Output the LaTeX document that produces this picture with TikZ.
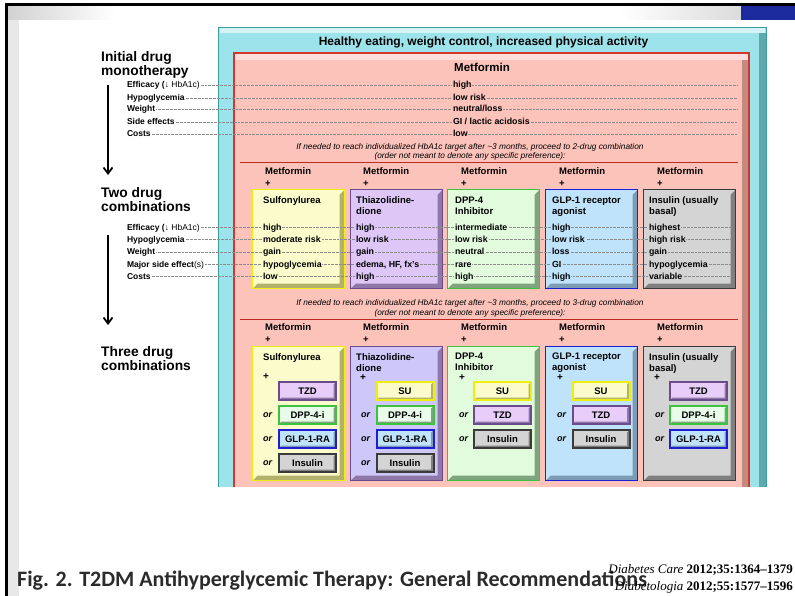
\documentclass[tikz,border=0pt]{standalone}
\usepackage{fontspec}
\setmainfont{Liberation Sans}
\newfontfamily\captionfont{Carlito}
\newfontfamily\citefont{Liberation Serif}
\usetikzlibrary{positioning,arrows.meta}
\definecolor{lifecyan}{HTML}{9DE3EB}
\definecolor{lifeteal}{HTML}{3A9C9E}
\definecolor{lifeshade}{HTML}{5DA9AC}
\definecolor{metsalmon}{HTML}{FCC3BB}
\definecolor{metred}{HTML}{D3362A}
\definecolor{metshade}{HTML}{C38A80}
\definecolor{steprule}{HTML}{BF2A1E}
\definecolor{sufill}{HTML}{FBFBCC}
\definecolor{suline}{HTML}{EEEE10}
\definecolor{sushade}{HTML}{B2B26C}
\definecolor{tzdfill}{HTML}{DEC7F7}
\definecolor{tzdfillb}{HTML}{CEC7F9}
\definecolor{tzdline}{HTML}{6C4B8C}
\definecolor{tzdshade}{HTML}{8E78A8}
\definecolor{tzdadd}{HTML}{E7CDF8}
\definecolor{dppfill}{HTML}{E2FBDD}
\definecolor{dppadd}{HTML}{E9FCE9}
\definecolor{dppline}{HTML}{3EC23E}
\definecolor{dppshade}{HTML}{7FA57F}
\definecolor{glpfill}{HTML}{BFE3FA}
\definecolor{glpline}{HTML}{1E1ED6}
\definecolor{glpshade}{HTML}{7D9CB6}
\definecolor{insfill}{HTML}{D4D4D4}
\definecolor{insline}{HTML}{3A3A3A}
\definecolor{insshade}{HTML}{808080}
\definecolor{slideblue}{HTML}{1B2A9C}
\definecolor{captiongray}{HTML}{2B2B2B}
\begin{document}
\begin{tikzpicture}[x=1pt,y=-1pt,
    stage/.style={font=\fontsize{13.8}{14}\selectfont\bfseries, align=left, anchor=north west, inner sep=0pt},
    rowlab/.style={font=\fontsize{8.5}{9}\selectfont\bfseries, anchor=base west, inner sep=0.8pt},
    val/.style={font=\fontsize{8.8}{9}\selectfont\bfseries, anchor=base west, inner sep=0.8pt},
    leader/.style={densely dotted, black!45, line width=0.35pt},
    sepnote/.style={font=\fontsize{8.3}{9.5}\selectfont\itshape, align=center, inner sep=0pt},
    colhead/.style={font=\fontsize{9.5}{12}\selectfont\bfseries, align=left, anchor=north west, inner sep=0pt},
    boxtitle/.style={font=\fontsize{9.5}{11}\selectfont\bfseries, align=left, inner sep=0pt},
    plusmark/.style={font=\fontsize{10}{10}\selectfont\bfseries, inner sep=0pt},
    ortext/.style={font=\fontsize{9}{10}\selectfont\bfseries\itshape, anchor=west, inner sep=0pt},
    drugbox/.style n args={3}{rectangle, draw=#2, fill=#1, line width=1.4pt, anchor=north west, inner sep=0pt, minimum width=92pt,
      path picture={\fill[#3] (path picture bounding box.south west) -- (path picture bounding box.south east) -- (path picture bounding box.north east) -- ([shift={(-5pt,-5pt)}]path picture bounding box.north east) -- ([shift={(-5pt,5pt)}]path picture bounding box.south east) -- ([shift={(5pt,5pt)}]path picture bounding box.south west) -- cycle;}},
    addbox/.style n args={3}{rectangle, draw=#2, fill=#1, line width=2pt, inner sep=0pt, minimum width=57pt, minimum height=18pt, font=\fontsize{9.5}{10}\selectfont\bfseries,
      path picture={\fill[#3] (path picture bounding box.south west) -- (path picture bounding box.south east) -- (path picture bounding box.north east) -- ([shift={(-2.5pt,-2.5pt)}]path picture bounding box.north east) -- ([shift={(-2.5pt,2.5pt)}]path picture bounding box.south east) -- ([shift={(2.5pt,2.5pt)}]path picture bounding box.south west) -- cycle;}},
    stagearrow/.style={line width=1.8pt, -{Straight Barb[length=6pt,width=9pt,line width=1.8pt]}}]
\useasboundingbox (0,0) rectangle (795,596);
% slide frame
\fill[white] (0,0) rectangle (795,596);
\fill[black!9] (7,6) rectangle (19,596);
\shade[left color=black!18, right color=white] (7,6) rectangle (115,20);
\shade[left color=white, right color=black!14] (620,6) rectangle (741,20);
\fill[slideblue] (741,5) rectangle (795,20);
\draw[line width=2.2pt] (795,4.5) -- (6.5,4.5) -- (6.5,596);
% lifestyle and metformin frames
\fill[lifecyan] (218,27) rectangle (767,487);
\fill[white!55!lifecyan] (220,28) rectangle (765,33);
\fill[lifeshade] (759,33) rectangle (766,487);
\draw[lifeteal, line width=1.4pt] (218.7,487) -- (218.7,27.7) -- (766.3,27.7) -- (766.3,487);
\node[font=\fontsize{12}{13}\selectfont\bfseries, inner sep=0pt] (life) at (483.5,42) {Healthy eating, weight control, increased physical activity};
\fill[metsalmon] (233,52) rectangle (750,487);
\fill[white!45!metsalmon] (235,53) rectangle (748,60);
\fill[metshade] (742,60) rectangle (748,487);
\draw[metred, line width=1.6pt] (233.8,487) -- (233.8,52.8) -- (749.2,52.8) -- (749.2,487);
\node[font=\fontsize{11.5}{13}\selectfont\bfseries, inner sep=0pt] (met) at (482,67) {Metformin};
% stages
\node[stage] (ini) at (101,51) {Initial drug\\monotherapy};
\node[stage] (two) at (101,187) {Two drug\\combinations};
\node[stage] (three) at (101,346) {Three drug\\combinations};
\coordinate (a1s) at (108,85); \coordinate (a1e) at (108,175);
\coordinate (a2s) at (108,235); \coordinate (a2e) at (108,325);
\draw[stagearrow] (a1s) -- (a1e);
\draw[stagearrow] (a2s) -- (a2e);
% monotherapy rows
\node[rowlab] (ieff) at (126,88) {Efficacy (\mdseries↓ HbA1c)};
\node[rowlab] (ihypo) at (126,100.5) {Hypoglycemia};
\node[rowlab] (iwt) at (126,112) {Weight};
\node[rowlab] (iside) at (126,124.5) {Side effects};
\node[rowlab] (icost) at (126,136.5) {Costs};
\coordinate (ieffe) at (737,85.5); \coordinate (ihypoe) at (737,98); \coordinate (iwte) at (737,109.5); \coordinate (isidee) at (737,122); \coordinate (icoste) at (737,134);
\draw[leader] ([yshift=2.5pt]ieff.base east) -- (ieffe);
\draw[leader] ([yshift=2.5pt]ihypo.base east) -- (ihypoe);
\draw[leader] ([yshift=2.5pt]iwt.base east) -- (iwte);
\draw[leader] ([yshift=2.5pt]iside.base east) -- (isidee);
\draw[leader] ([yshift=2.5pt]icost.base east) -- (icoste);
\node[val, fill=metsalmon] (meff) at (452,88) {high};
\node[val, fill=metsalmon] (mhypo) at (452,100.5) {low risk};
\node[val, fill=metsalmon] (mwt) at (452,112) {neutral/loss};
\node[val, fill=metsalmon] (mside) at (452,124.5) {GI / lactic acidosis};
\node[val, fill=metsalmon] (mcost) at (452,136.5) {low};
\node[sepnote] (note2) at (470,152) {If needed to reach individualized HbA1c target after \textasciitilde3 months, proceed to 2-drug combination\\(order not meant to denote any specific preference):};
\draw[steprule, line width=1.6pt] (240,162.5) -- (738,162.5);
% two drug combinations
\node[colhead] (hsu2) at (265,167.5) {Metformin\\+};
\node[colhead] (htzd2) at (363,167.5) {Metformin\\+};
\node[colhead] (hdpp2) at (461,167.5) {Metformin\\+};
\node[colhead] (hglp2) at (559,167.5) {Metformin\\+};
\node[colhead] (hins2) at (657,167.5) {Metformin\\+};
\node[drugbox={sufill}{suline}{sushade}, minimum height=99pt] (su2) at (252,189) {};
\node[drugbox={tzdfill}{tzdline}{tzdshade}, minimum height=99pt] (tzd2) at (350,189) {};
\node[drugbox={dppfill}{dppline}{dppshade}, minimum height=99pt] (dpp2) at (447,189) {};
\node[drugbox={glpfill}{glpline}{glpshade}, minimum height=99pt] (glp2) at (545,189) {};
\node[drugbox={insfill}{insline}{insshade}, minimum height=99pt] (ins2) at (643,189) {};
\node[boxtitle, below right=7.5pt and 11pt of su2.north west] (su2t) {Sulfonylurea};
\node[boxtitle, below right=7.5pt and 6pt of tzd2.north west] (tzd2t) {Thiazolidine-\\dione};
\node[boxtitle, below right=7.5pt and 8pt of dpp2.north west] (dpp2t) {DPP-4\\Inhibitor};
\node[boxtitle, below right=7.5pt and 7pt of glp2.north west] (glp2t) {GLP-1 receptor\\agonist};
\node[boxtitle, below right=7.5pt and 6pt of ins2.north west] (ins2t) {Insulin (usually\\basal)};
\node[rowlab] (teff) at (126,230) {Efficacy (\mdseries↓ HbA1c)};
\node[rowlab] (thypo) at (126,242) {Hypoglycemia};
\node[rowlab] (twt) at (126,254.5) {Weight};
\node[rowlab] (tside) at (126,267) {Major side effect\mdseries(s)};
\node[rowlab] (tcost) at (126,279) {Costs};
\coordinate (teffe) at (731,227.5); \coordinate (thypoe) at (731,239.5); \coordinate (twte) at (731,252); \coordinate (tsidee) at (731,264.5); \coordinate (tcoste) at (731,276.5);
\draw[leader] ([yshift=2.5pt]teff.base east) -- (teffe);
\draw[leader] ([yshift=2.5pt]thypo.base east) -- (thypoe);
\draw[leader] ([yshift=2.5pt]twt.base east) -- (twte);
\draw[leader] ([yshift=2.5pt]tside.base east) -- (tsidee);
\draw[leader] ([yshift=2.5pt]tcost.base east) -- (tcoste);
\node[val, fill=sufill] (su2a) at (262,230) {high}; \node[val, fill=sufill] (su2b) at (262,242) {moderate risk}; \node[val, fill=sufill] (su2c) at (262,254.5) {gain}; \node[val, fill=sufill] (su2d) at (262,267) {hypoglycemia}; \node[val, fill=sufill] (su2e) at (262,279) {low};
\node[val, fill=tzdfill] (tzd2a) at (355,230) {high}; \node[val, fill=tzdfill] (tzd2b) at (355,242) {low risk}; \node[val, fill=tzdfill] (tzd2c) at (355,254.5) {gain}; \node[val, fill=tzdfill] (tzd2d) at (355,267) {edema, HF, fx's}; \node[val, fill=tzdfill] (tzd2e) at (355,279) {high};
\node[val, fill=dppfill] (dpp2a) at (454,230) {intermediate}; \node[val, fill=dppfill] (dpp2b) at (454,242) {low risk}; \node[val, fill=dppfill] (dpp2c) at (454,254.5) {neutral}; \node[val, fill=dppfill] (dpp2d) at (454,267) {rare}; \node[val, fill=dppfill] (dpp2e) at (454,279) {high};
\node[val, fill=glpfill] (glp2a) at (551,230) {high}; \node[val, fill=glpfill] (glp2b) at (551,242) {low risk}; \node[val, fill=glpfill] (glp2c) at (551,254.5) {loss}; \node[val, fill=glpfill] (glp2d) at (551,267) {GI}; \node[val, fill=glpfill] (glp2e) at (551,279) {high};
\node[val, fill=insfill] (ins2a) at (648,230) {highest}; \node[val, fill=insfill] (ins2b) at (648,242) {high risk}; \node[val, fill=insfill] (ins2c) at (648,254.5) {gain}; \node[val, fill=insfill] (ins2d) at (648,267) {hypoglycemia}; \node[val, fill=insfill] (ins2e) at (648,279) {variable};
\node[sepnote] (note3) at (470,308.5) {If needed to reach individualized HbA1c target after \textasciitilde3 months, proceed to 3-drug combination\\(order not meant to denote any specific preference):};
\draw[steprule, line width=1.6pt] (240,319.5) -- (738,319.5);
% three drug combinations
\node[colhead] (hsu3) at (265,323.5) {Metformin\\+};
\node[colhead] (htzd3) at (363,323.5) {Metformin\\+};
\node[colhead] (hdpp3) at (461,323.5) {Metformin\\+};
\node[colhead] (hglp3) at (559,323.5) {Metformin\\+};
\node[colhead] (hins3) at (657,323.5) {Metformin\\+};
\node[drugbox={sufill}{suline}{sushade}, minimum height=134pt] (su3) at (252,346) {};
\node[drugbox={tzdfillb}{tzdline}{tzdshade}, minimum height=134pt] (tzd3) at (350,346) {};
\node[drugbox={dppfill}{dppline}{dppshade}, minimum height=134pt] (dpp3) at (447,346) {};
\node[drugbox={glpfill}{glpline}{glpshade}, minimum height=134pt] (glp3) at (545,346) {};
\node[drugbox={insfill}{insline}{insshade}, minimum height=134pt] (ins3) at (643,346) {};
\node[boxtitle, below right=7.5pt and 11pt of su3.north west] (su3t) {Sulfonylurea};
\node[boxtitle, below right=7pt and 6pt of tzd3.north west] (tzd3t) {Thiazolidine-\\dione};
\node[boxtitle, below right=7pt and 8pt of dpp3.north west] (dpp3t) {DPP-4\\Inhibitor};
\node[boxtitle, below right=7pt and 7pt of glp3.north west] (glp3t) {GLP-1 receptor\\agonist};
\node[boxtitle, below right=7pt and 6pt of ins3.north west] (ins3t) {Insulin (usually\\basal)};
\node[plusmark] (su3p) at (266,377) {+}; \node[plusmark] (tzd3p) at (363,378) {+}; \node[plusmark] (dpp3p) at (462,378) {+}; \node[plusmark] (glp3p) at (560,378) {+}; \node[plusmark] (ins3p) at (657,378) {+};
\node[addbox={tzdadd}{tzdline}{tzdshade}] (su3a) at (307.5,391) {TZD};
\node[addbox={dppadd}{dppline}{dppshade}] (su3b) at (307.5,415) {DPP-4-i};
\node[addbox={glpfill}{glpline}{glpshade}] (su3c) at (307.5,439) {GLP-1-RA};
\node[addbox={insfill}{insline}{insshade}] (su3d) at (307.5,463) {Insulin};
\node[ortext] (su3o2) at (263,415) {or}; \node[ortext] (su3o3) at (263,439) {or}; \node[ortext] (su3o4) at (263,463) {or};
\node[addbox={sufill}{suline}{sushade}] (tzd3a) at (405,391) {SU};
\node[addbox={dppadd}{dppline}{dppshade}] (tzd3b) at (405,415) {DPP-4-i};
\node[addbox={glpfill}{glpline}{glpshade}] (tzd3c) at (405,439) {GLP-1-RA};
\node[addbox={insfill}{insline}{insshade}] (tzd3d) at (405,463) {Insulin};
\node[ortext] (tzd3o2) at (361,415) {or}; \node[ortext] (tzd3o3) at (361,439) {or}; \node[ortext] (tzd3o4) at (361,463) {or};
\node[addbox={sufill}{suline}{sushade}] (dpp3a) at (502.5,391) {SU};
\node[addbox={tzdadd}{tzdline}{tzdshade}] (dpp3b) at (502.5,415) {TZD};
\node[addbox={insfill}{insline}{insshade}] (dpp3c) at (502.5,439) {Insulin};
\node[ortext] (dpp3o2) at (459,415) {or}; \node[ortext] (dpp3o3) at (459,439) {or};
\node[addbox={sufill}{suline}{sushade}] (glp3a) at (601,391) {SU};
\node[addbox={tzdadd}{tzdline}{tzdshade}] (glp3b) at (601,415) {TZD};
\node[addbox={insfill}{insline}{insshade}] (glp3c) at (601,439) {Insulin};
\node[ortext] (glp3o2) at (557,415) {or}; \node[ortext] (glp3o3) at (557,439) {or};
\node[addbox={tzdadd}{tzdline}{tzdshade}] (ins3a) at (698.5,391) {TZD};
\node[addbox={dppadd}{dppline}{dppshade}] (ins3b) at (698.5,415) {DPP-4-i};
\node[addbox={glpfill}{glpline}{glpshade}] (ins3c) at (698.5,439) {GLP-1-RA};
\node[ortext] (ins3o2) at (655,415) {or}; \node[ortext] (ins3o3) at (655,439) {or};
% caption
\node[anchor=base west, inner sep=0pt, text=captiongray, font=\captionfont\bfseries\fontsize{22}{24}\selectfont] (fig) at (17,586) {Fig. 2. T2DM Antihyperglycemic Therapy: General Recommendations};
\node[anchor=base east, inner sep=0pt, font=\citefont\fontsize{13}{14}\selectfont] (cite1) at (793,573.5) {\textit{Diabetes Care} \textbf{2012;35:1364–1379}};
\node[anchor=base east, inner sep=0pt, font=\citefont\fontsize{13}{14}\selectfont] (cite2) at (793,590.5) {\textit{Diabetologia} \textbf{2012;55:1577–1596}};
\end{tikzpicture}
\end{document}
